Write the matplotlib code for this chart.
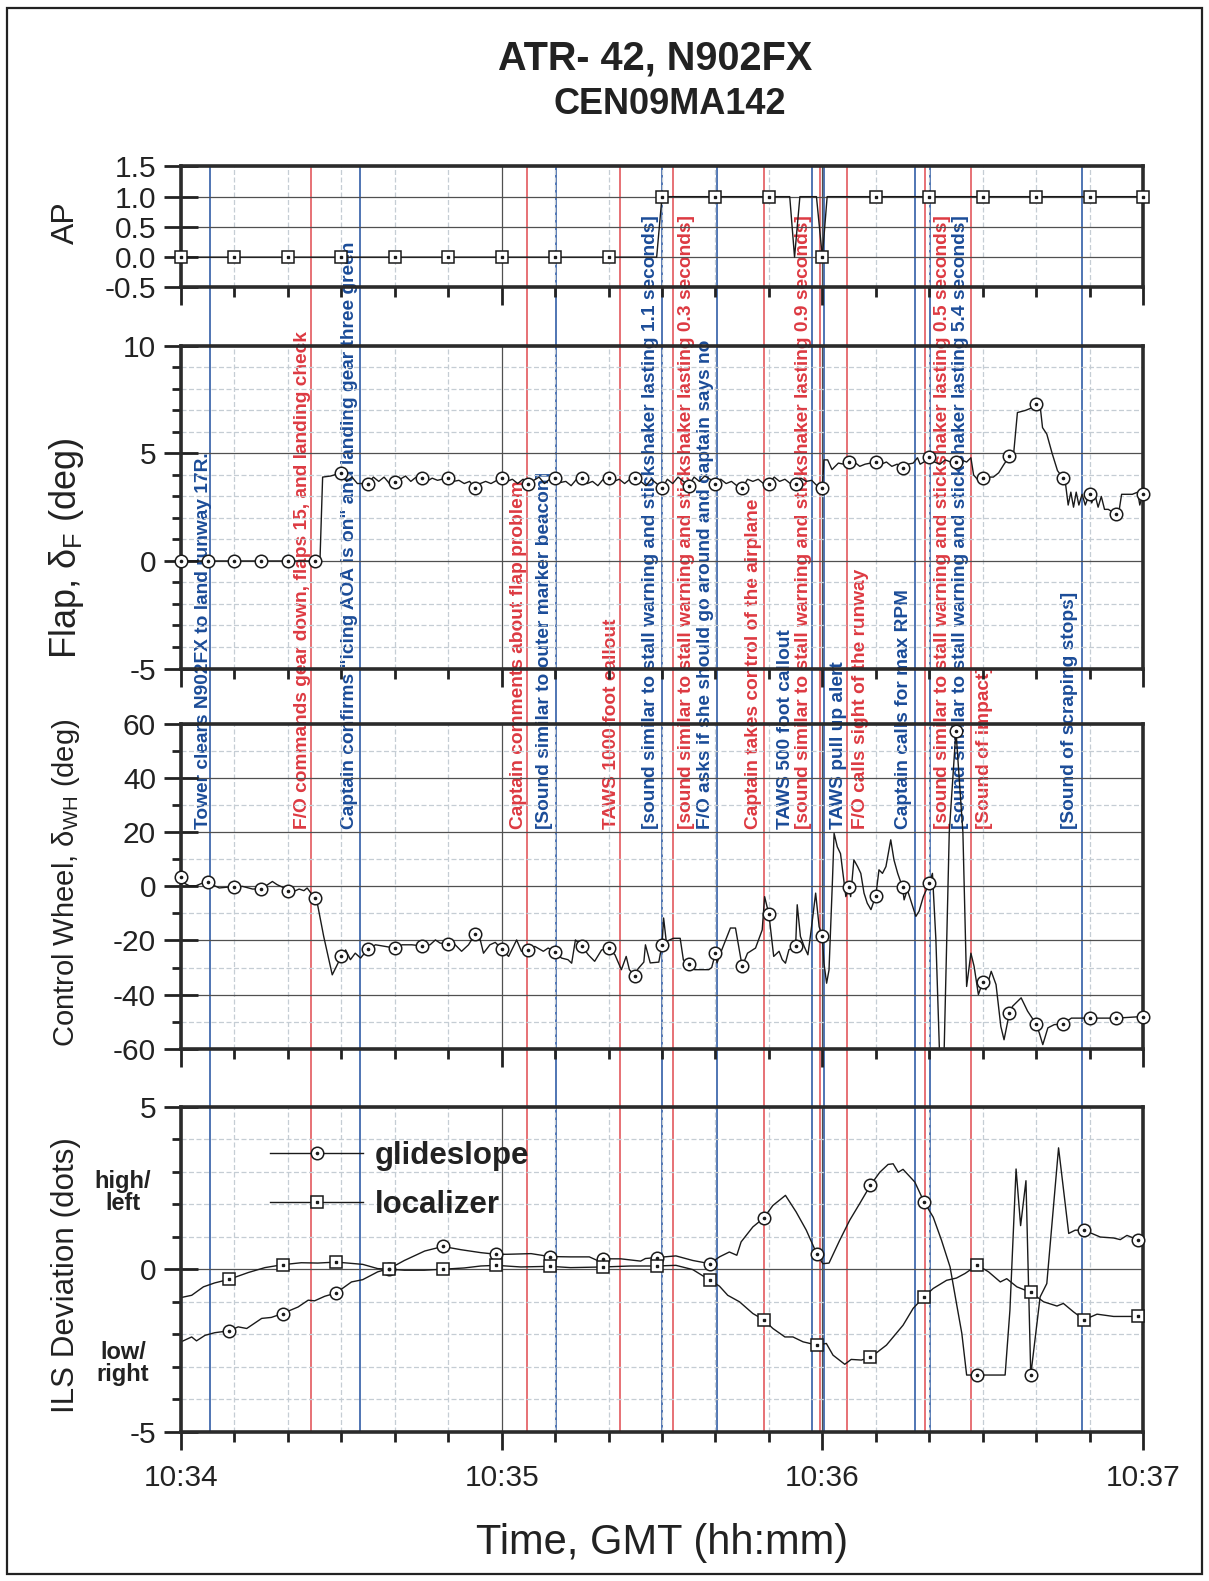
import numpy as np
import matplotlib
matplotlib.use('Agg')
import matplotlib.pyplot as plt
from matplotlib.ticker import MultipleLocator, NullFormatter, FuncFormatter
from matplotlib import font_manager as fm
import matplotlib.transforms as mtransforms
from matplotlib.legend_handler import HandlerTuple
from matplotlib.lines import Line2D
from matplotlib.patches import Rectangle

plt.rcParams['font.family'] = ['Liberation Sans', 'DejaVu Sans']
plt.rcParams['axes.unicode_minus'] = False

# ---------------- data (seconds after 10:34:00) ----------------
x_tick_labels = ['10:34', '10:35', '10:36', '10:37']

ap_line_t = [0, 89.0, 90.0, 113.9, 114.8, 115.8, 118.9, 120.0, 120.9, 180]
ap_line_v = [0, 0, 1, 1, 0, 1, 1, 0, 1, 1]
ap_mark_t = [0, 10, 20, 30, 40, 50, 60, 70, 80, 90, 100, 110, 120, 130, 140, 150, 160, 170, 180]
ap_mark_v = [0, 0, 0, 0, 0, 0, 0, 0, 0, 1, 1, 1, 0, 1, 1, 1, 1, 1, 1]

flap_line = [(26.0, 0.0), (26.5, 3.9), (28.0, 3.95), (31, 3.7), (32, 3.9), (33, 3.6), (36, 3.9), (37, 3.7),
             (38, 3.9), (39, 3.6), (41, 3.8), (42, 3.95), (43, 3.7), (44, 3.9), (46, 3.7), (47, 3.85),
             (48, 3.75), (51, 3.7), (52, 3.75), (53, 3.6), (54, 3.7), (56, 3.6), (57, 3.7), (58, 3.6),
             (61, 3.7), (62, 3.8), (63, 3.6), (64, 3.8), (66, 3.75), (67, 3.9), (68, 3.6), (69, 3.8),
             (71, 3.65), (72, 3.7), (73, 3.5), (74, 3.8), (76, 3.6), (77, 3.7), (78, 3.5), (79, 3.8),
             (81, 3.7), (82, 3.8), (83, 3.6), (84, 3.8), (86, 3.7), (87, 3.5), (88, 3.8), (89, 3.6),
             (91, 3.8), (92, 3.6), (93, 3.9), (94, 3.7), (96, 3.9), (97, 3.7), (98, 3.95), (99, 3.8),
             (101, 3.8), (102, 3.6), (103, 3.7), (104, 3.5), (106, 3.8), (107, 3.7), (108, 3.8), (109, 3.6),
             (111, 3.9), (112, 3.7), (113, 3.8), (114, 3.6), (116, 3.85), (117, 3.7), (118, 3.75), (119, 3.5),
             (120.3, 4.7), (121, 4.7), (121.8, 4.25), (123, 4.55), (124, 4.5), (126, 4.6), (127, 4.4),
             (128, 4.5), (129, 4.55), (131, 4.5), (132, 4.6), (133, 4.4), (134, 4.5), (136, 4.5),
             (137, 4.55), (137.8, 4.8), (138.3, 4.5), (139, 4.6), (141, 4.6), (142, 4.5), (143, 4.7),
             (144, 4.6), (146, 4.7), (147, 4.6), (147.8, 4.8), (148.3, 4.0), (149, 3.8), (151, 3.9),
             (152, 3.9), (153, 4.1), (154, 4.5), (155.8, 5.0), (156.5, 6.9), (158, 7.0), (159, 7.1),
             (160.8, 7.1), (161.2, 6.2), (162, 5.9), (163, 5.0), (164, 4.2), (165.5, 3.6), (166, 2.6),
             (166.5, 3.2), (167, 2.5), (167.5, 3.2), (168, 2.6), (168.6, 3.1), (169.2, 2.6), (170.4, 2.7),
             (171, 3.1), (171.6, 2.5), (172.2, 3.0), (172.8, 2.4), (173.5, 2.4), (175.5, 2.3), (176, 3.1),
             (177, 3.1), (178, 3.1), (179, 3.2), (179.4, 2.6)]
flap_mark_t = [0, 5, 10, 15, 20, 25, 30, 35, 40, 45, 50, 55, 60, 65, 70, 75, 80, 85, 90, 95, 100, 105,
               110, 115, 120, 125, 130, 135, 140, 145, 150, 155, 160, 165, 170, 175, 180]
flap_mark_v = [0, 0, 0, 0, 0, 0, 4.1, 3.6, 3.65, 3.87, 3.87, 3.37, 3.87, 3.6, 3.87, 3.87, 3.87, 3.87,
               3.37, 3.5, 3.6, 3.37, 3.6, 3.6, 3.37, 4.58, 4.58, 4.33, 4.83, 4.58, 3.87, 4.86, 7.29,
               3.87, 3.13, 2.17, 3.13]

cw_line = [(0.6, 1.2), (1.55, 0.2), (2.8, 0.2), (4.0, 1.2), (5.9, 0.6), (7.15, -0.6), (8.7, -0.3),
           (11.5, 0.0), (13.4, -1.0), (16.2, 0.6), (17.1, 1.8), (18, 0.6), (19, -0.3), (21.1, -1.9),
           (22.1, -1.0), (23, -1.6), (23.6, -0.6), (25.5, -6.2), (26.7, -18.5), (28.3, -32.7),
           (30.8, -23.5), (31.7, -27.1), (32.6, -24.7), (33.6, -26.5), (36.4, -21.6), (38.2, -22.2),
           (41.4, -21.6), (43.2, -21.6), (46.6, -21.6), (47.6, -19.8), (48.5, -21.0), (51.3, -21.6),
           (52.5, -24.0), (53.8, -21.6), (56, -19.8), (56.6, -24.7), (57.8, -21.6), (58.8, -20.7),
           (61.3, -25.9), (62.8, -19.8), (63.7, -24.0), (66.2, -22.2), (67.8, -24.0), (68.7, -22.8),
           (71.2, -26.5), (72.4, -27.1), (73.1, -28.4), (73.8, -19.8), (76.2, -25.3), (77.4, -27.7),
           (78.7, -23.5), (81.2, -25.3), (82.4, -30.8), (83.3, -25.9), (83.9, -30.8), (85.5, -30.5),
           (86.6, -28.0), (86.9, -21.6), (87.8, -28.3), (89.4, -28.0), (90.3, -11.7), (90.8, -20.4),
           (92.1, -19.2), (93.4, -19.2), (94, -27.2), (96.1, -30.8), (98.75, -30.8), (99.3, -30.0),
           (100.3, -28.3), (101.2, -23.4), (102.8, -15.4), (103.75, -15.4), (106, -24.7), (107.5, -22.8),
           (108.75, -16.1), (109.2, -3.8), (110.9, -25.9), (111.9, -24.0), (112.5, -27.1), (113.1, -28.4),
           (113.75, -23.4), (115.3, -6.8), (115.9, -18.5), (116.6, -22.2), (117.3, -25.3), (117.8, -17.9),
           (118.75, -2.5), (119.4, -14.9), (120.3, -28.4), (120.8, -35.8), (121.25, -30.9), (121.9, 2.5),
           (122.2, 19.6), (122.8, 14.6), (123.4, 12.1), (124.4, -3.8), (125.3, -3.8), (125.9, 9.8),
           (126.6, 7.3), (127.2, 4.8), (127.8, -2.5), (128.4, -6.2), (129.1, -8.6), (130.6, 6.1),
           (131.25, 4.8), (131.9, 7.3), (132.8, 17.2), (133.4, 9.8), (134.1, 4.8), (135.3, -5.0),
           (135.9, -1.2), (136.6, -5.5), (137.5, -11.1), (138.1, -9.2), (138.9, -3.8), (140.6, 4.8),
           (141.25, -19.8), (141.9, -60), (142.8, -60), (143.75, 20), (146.3, 20), (147.0, -37),
           (147.8, -24.7), (148.4, -29.6), (149.2, -40), (150.6, -38.2), (151.6, -31.4), (152.5, -36.3),
           (153.4, -51.8), (154, -56.7), (155.6, -44.3), (157.2, -41.2), (158.4, -46.1), (160.6, -54.2),
           (161.25, -58.5), (162.2, -52.3), (163.4, -51.1), (166.6, -48.7)]
cw_mark_t = flap_mark_t
cw_mark_v = [3.6, 1.5, -0.3, -0.9, -1.6, -4.3, -25.9, -23.1, -22.8, -22.0, -21.2, -17.7, -23.1, -23.5,
             -24.4, -22.0, -22.8, -33.3, -21.6, -28.6, -24.7, -29.6, -10.3, -22.2, -18.5, -0.3, -3.5,
             -0.3, 1.2, 57.5, -35.5, -46.8, -50.9, -50.9, -48.7, -48.7, -48.1]

ils_mark_t = [9, 19, 29, 39, 49, 59, 69, 79, 89, 99, 109, 119, 129, 139, 149, 159, 169, 179]
gs_line = [(0, -2.23), (2, -2.08), (2.9, -2.2), (4.5, -2.03), (6.3, -1.95), (10.7, -1.77), (12.3, -1.82),
           (15.1, -1.51), (16.9, -1.48), (21.9, -1.16), (23.8, -0.95), (25, -0.97), (26.9, -0.83),
           (31.9, -0.39), (34, -0.32), (36.8, -0.08), (41.8, 0.27), (45.6, 0.56), (52.4, 0.6),
           (56.1, 0.51), (61.1, 0.46), (65.5, 0.48), (72.9, 0.38), (76.4, 0.38), (77.9, 0.27),
           (82.3, 0.32), (86, 0.25), (86.9, 0.33), (92.6, 0.41), (95.75, 0.27), (100.75, 0.38),
           (102.6, 0.53), (104, 0.43), (104.8, 0.84), (107, 1.3), (110.75, 1.96), (113.1, 2.27),
           (115.1, 1.76), (117, 1.2), (120.1, 0.17), (121.25, 0.19), (123.25, 0.89), (125.1, 1.5),
           (127, 2.02), (130.75, 2.98), (132.3, 3.22), (133.25, 3.24), (134.2, 2.98), (135.1, 3.07),
           (137.3, 2.68), (140.75, 1.6), (142.3, 0.89), (143.9, 0.07), (145.1, -1.05), (146.1, -1.97),
           (147, -3.25), (154.2, -3.25), (155.1, -1.26), (156.25, 3.08), (157.1, 1.34), (158.1, 2.72),
           (160.75, -0.85), (162, -0.44), (164.2, 3.73), (166.1, 1.1), (167.3, 1.2), (172, 0.99),
           (174.5, 0.96), (175.75, 0.91), (177, 1.04), (180, 0.95)]
gs_mark_v = [-1.89, -1.36, -0.73, 0.02, 0.7, 0.46, 0.39, 0.32, 0.36, 0.17, 1.57, 0.46, 2.58, 2.08,
             -3.25, -3.25, 1.2, 0.91]
loc_line = [(0, -0.87), (2, -0.8), (4.2, -0.54), (6.3, -0.42), (12.6, -0.1), (15.7, 0.05), (22.5, 0.2),
            (25.6, 0.19), (31.2, 0.19), (34, 0.15), (36.8, 0.02), (41.8, -0.03), (45.5, -0.03),
            (53, 0.04), (56.1, 0.1), (63.6, 0.07), (72.9, 0.05), (84.1, 0.1), (92.6, 0.12),
            (95.75, -0.01), (100.75, -0.52), (102.3, -0.8), (104.5, -1.0), (107, -1.36), (110.75, -1.82),
            (113, -2.08), (114.5, -2.08), (116.4, -2.23), (120.75, -2.28), (122, -2.64), (124.2, -2.92),
            (125.4, -2.77), (127.3, -2.79), (132, -2.33), (135.1, -1.72), (137, -1.2), (140.75, -0.59),
            (143.25, -0.34), (145.1, -0.27), (146.7, -0.13), (151.1, -0.08), (153.3, -0.39),
            (154.5, -0.29), (156.4, -0.54), (161.4, -1.0), (163.9, -1.13), (165.1, -1.05), (167, -1.31),
            (171.4, -1.38), (174.5, -1.45), (180, -1.45)]
loc_mark_v = [-0.31, 0.14, 0.22, 0.0, 0.0, 0.12, 0.09, 0.07, 0.1, -0.34, -1.55, -2.33, -2.71, -0.85,
              0.13, -0.71, -1.55, -1.45]

# events: line time, label centre time, colour, text
event_t = [5.5, 24.4, 33.5, 64.8, 70.1, 82.2, 90.0, 92.1, 100.2, 109.1, 118.1, 119.6, 120.25, 124.6,
           137.4, 139.25, 140.1, 147.9, 168.6]
event_label_t = [4.3, 22.8, 31.5, 63.1, 68.1, 80.5, 87.9, 94.6, 98.1, 107.1, 113.1, 116.5, 123.1, 127.1,
                 135.25, 142.4, 145.9, 150.25, 166.2]
event_color = ['b', 'r', 'b', 'r', 'b', 'r', 'b', 'r', 'b', 'r', 'b', 'r', 'b', 'r', 'b', 'r', 'b', 'r', 'b']
event_text = [
    'Tower clears N902FX to land runway 17R.',
    'F/O commands gear down, flaps 15, and landing check',
    'Captain confirms "icing AOA is on" and landing gear three green',
    'Captain comments about flap problem',
    '[Sound similar to outer marker beacon]',
    'TAWS 1000 foot callout',
    '[sound similar to stall warning and stickshaker lasting 1.1 seconds]',
    '[sound similar to stall warning and stickshaker lasting 0.3 seconds]',
    'F/O asks if she should go around and captain says no',
    'Captain takes control of the airplane',
    'TAWS 500 foot callout',
    '[sound similar to stall warning and stickshaker lasting 0.9 seconds]',
    'TAWS pull up alert',
    'F/O calls sight of the runway',
    'Captain calls for max RPM',
    '[sound similar to stall warning and stickshaker lasting 0.5 seconds]',
    '[sound similar to stall warning and stickshaker lasting 5.4 seconds]',
    '[Sound of impact]',
    '[Sound of scraping stops]',
]

# ---------------- helpers ----------------
def merged(line, mt, mv):
    t = np.array([p[0] for p in line] + list(mt), dtype=float)
    v = np.array([p[1] for p in line] + list(mv), dtype=float)
    o = np.argsort(t, kind='stable')
    return t[o], v[o]

names = {f.name for f in fm.fontManager.ttflist}
NARROW = 'Liberation Sans Narrow' in names

W, H = 1209, 1581
X0, X1 = 181, 1143
def rect(top, bottom):
    return [X0 / W, 1 - bottom / H, (X1 - X0) / W, (bottom - top) / H]

INK = '#222222'
LINE = '#1a1a1a'
BLUE_L, RED_L = '#1f4f9f', '#e04a50'
BLUE_T, RED_T = '#1b4c98', '#dd3a42'

fig = plt.figure(figsize=(W / 100, H / 100), dpi=100)

# event overlay
ev_top, ev_bot = 166.4, 1432
ax_ev = fig.add_axes(rect(ev_top, ev_bot), zorder=0)
ax_ev.set_xlim(0, 180)
ax_ev.set_ylim(0, 1)
ax_ev.axis('off')
ty = (ev_bot - 829) / (ev_bot - ev_top)
for t, lt, c, s in zip(event_t, event_label_t, event_color, event_text):
    ax_ev.axvline(t, color=BLUE_L if c == 'b' else RED_L, lw=1.1)
    ax_ev.text(lt, ty, s, rotation=90, ha='center', va='bottom', fontsize=13.8, fontweight='bold',
               color=BLUE_T if c == 'b' else RED_T)

def setup(ax, ylim, major, minor, fmt=None, xlabels=False):
    ax.set_facecolor('none')
    ax.set_xlim(0, 180)
    ax.set_ylim(*ylim)
    ax.xaxis.set_major_locator(MultipleLocator(60))
    ax.xaxis.set_minor_locator(MultipleLocator(10))
    ax.yaxis.set_major_locator(MultipleLocator(major))
    if minor:
        ax.yaxis.set_minor_locator(MultipleLocator(minor))
    if fmt:
        ax.yaxis.set_major_formatter(FuncFormatter(fmt))
    if xlabels:
        ax.set_xticks([0, 60, 120, 180])
        ax.set_xticklabels(x_tick_labels)
    else:
        ax.xaxis.set_major_formatter(NullFormatter())
    ax.grid(True, which='major', color='#505050', lw=0.9)
    ax.grid(True, which='minor', color='#c5cdd4', lw=0.9, ls=(0, (4, 2)))
    ax.set_axisbelow(True)
    ax.tick_params(axis='y', which='major', direction='inout', length=24, width=2, pad=6,
                   labelsize=21.5, colors=INK)
    ax.tick_params(axis='y', which='minor', direction='out', length=6.5, width=2, colors=INK)
    ax.tick_params(axis='x', which='major', direction='out', length=13, width=2, pad=10,
                   labelsize=21.5, colors=INK)
    ax.tick_params(axis='x', which='minor', direction='out', length=7, width=2, colors=INK)
    for sp in ax.spines.values():
        sp.set_linewidth(2.6)
        sp.set_color('#2b2b2b')

def circ(ax, t, v):
    ax.plot(t, v, ls='none', marker='o', ms=9, mfc='white', mec=LINE, mew=1.1, zorder=4, clip_on=False)
    ax.plot(t, v, ls='none', marker='o', ms=1.6, color=LINE, zorder=5, clip_on=False)

def sq(ax, t, v):
    ax.plot(t, v, ls='none', marker='s', ms=8, mfc='white', mec=LINE, mew=1.1, zorder=4, clip_on=False)
    ax.plot(t, v, ls='none', marker='s', ms=1.6, color=LINE, zorder=5, clip_on=False)

# AP
ax1 = fig.add_axes(rect(166.4, 287.4), zorder=1)
setup(ax1, (-0.5, 1.5), 0.5, None, fmt=lambda v, p: f'{v:.1f}')
ax1.plot(ap_line_t, ap_line_v, color=LINE, lw=1.0)
sq(ax1, ap_mark_t, ap_mark_v)

# Flap
ax2 = fig.add_axes(rect(345.9, 668.5), zorder=1)
setup(ax2, (-5, 10), 5, 1, fmt=lambda v, p: f'{v:.0f}')
t, v = merged(flap_line, flap_mark_t, flap_mark_v)
ax2.plot(t, v, color=LINE, lw=1.0)
circ(ax2, flap_mark_t, flap_mark_v)

# Control wheel
ax3 = fig.add_axes(rect(724, 1048.7), zorder=1)
setup(ax3, (-60, 60), 20, 10, fmt=lambda v, p: f'{v:.0f}')
t, v = merged(cw_line, cw_mark_t, cw_mark_v)
ax3.plot(t, v, color=LINE, lw=1.0)
circ(ax3, cw_mark_t, cw_mark_v)

# ILS
ax4 = fig.add_axes(rect(1106.5, 1432), zorder=1)
setup(ax4, (-5, 5), 5, 1, fmt=lambda v, p: f'{v:.0f}', xlabels=True)
t, v = merged(gs_line, ils_mark_t, gs_mark_v)
ax4.plot(t, v, color=LINE, lw=1.0)
circ(ax4, ils_mark_t, gs_mark_v)
t, v = merged(loc_line, ils_mark_t, loc_mark_v)
ax4.plot(t, v, color=LINE, lw=1.0)
sq(ax4, ils_mark_t, loc_mark_v)

h_gs = (Line2D([], [], color=LINE, lw=1.0, marker='o', ms=9, mfc='white', mec=LINE, mew=1.1),
        Line2D([], [], ls='none', marker='o', ms=1.6, color=LINE))
h_loc = (Line2D([], [], color=LINE, lw=1.0, marker='s', ms=8, mfc='white', mec=LINE, mew=1.1),
         Line2D([], [], ls='none', marker='s', ms=1.6, color=LINE))
leg = ax4.legend([h_gs, h_loc], ['glideslope', 'localizer'], handler_map={tuple: HandlerTuple(ndivide=1)},
                 loc='upper left', bbox_to_anchor=(270 / W, 1 - 1141 / H), bbox_transform=fig.transFigure,
                 frameon=False, borderpad=0, borderaxespad=0, handlelength=2.98, handletextpad=0.38,
                 labelspacing=0.61, prop={'size': 22.5, 'weight': 'bold'})
for tx in leg.get_texts():
    tx.set_color(INK)

bt = mtransforms.blended_transform_factory(fig.transFigure, ax4.transData)
ax4.text(123 / W, 2.35, 'high/\nleft', transform=bt, ha='center', va='center', fontsize=17,
         fontweight='bold', color=INK, linespacing=0.95)
ax4.text(123 / W, -2.9, 'low/\nright', transform=bt, ha='center', va='center', fontsize=17,
         fontweight='bold', color=INK, linespacing=0.95)

# y labels
def ylab(ycen, s, size, narrow=False):
    fam = ['Liberation Sans Narrow', 'Liberation Sans'] if narrow else ['Liberation Sans']
    fig.text(66 / W, 1 - ycen / H, s, rotation=90, ha='center', va='center', fontsize=size,
             color=INK, family=fam)

ylab(223, 'AP', 23)
ylab(548, 'Flap, δ$_\\mathregular{F}$ (deg)', 26)
if NARROW:
    ylab(883, 'Control Wheel, δ$_\\mathregular{WH}$ (deg)', 25.5, True)
    ylab(1275, 'ILS Deviation (dots)', 27.5, True)
else:
    ylab(883, 'Control Wheel, δ$_\\mathregular{WH}$ (deg)', 21)
    ylab(1275, 'ILS Deviation (dots)', 22.6)

fig.text(662 / W, 1 - 1543 / H, 'Time, GMT (hh:mm)', ha='center', va='center', fontsize=30, color=INK)
fig.text(655 / W, 1 - 58.5 / H, 'ATR- 42, N902FX', ha='center', va='center', fontsize=28.5,
         fontweight='bold', color=INK)
fig.text(670 / W, 1 - 104.5 / H, 'CEN09MA142', ha='center', va='center', fontsize=26,
         fontweight='bold', color=INK)

fig.add_artist(Rectangle((7 / W, 1 - 1574 / H), (1202 - 7) / W, (1574 - 8) / H, transform=fig.transFigure,
                         fill=False, lw=1.6, ec=INK))

fig.savefig('out.png', dpi=100)
